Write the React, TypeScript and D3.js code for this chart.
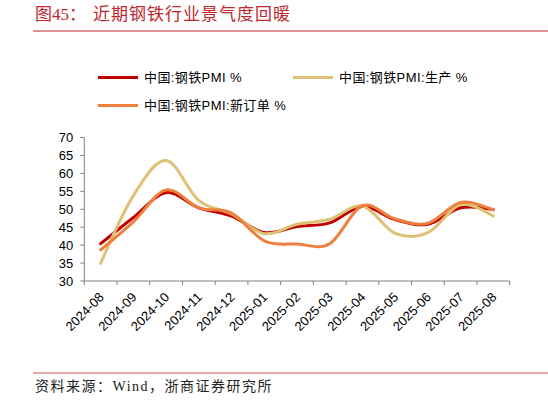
import React, { useEffect, useRef } from 'react';
import * as d3 from 'd3';

const months = ['2024-08', '2024-09', '2024-10', '2024-11', '2024-12', '2025-01', '2025-02', '2025-03', '2025-04', '2025-05', '2025-06', '2025-07', '2025-08'];
const pmi = [40.4, 47.7, 54.6, 50.4, 48.1, 43.5, 45.2, 46.2, 50.8, 47.1, 45.8, 50.4, 49.9];
const production = [34.9, 53.8, 63.6, 52.4, 48.7, 43.2, 45.8, 47.2, 50.9, 43.3, 43.5, 51.3, 48.1];
const newOrders = [38.7, 46.5, 55.4, 50.4, 48.9, 41.2, 40.3, 40.4, 51.0, 47.3, 46.1, 51.9, 49.8];
const yTicks = [30, 35, 40, 45, 50, 55, 60, 65, 70];

const seriesNames = ['中国:钢铁PMI %', '中国:钢铁PMI:生产 %', '中国:钢铁PMI:新订单 %'];
const seriesColors = ['#c00000', '#dfc173', '#ef7f3d'];

const App: React.FC = () => {
  const svgRef = useRef<SVGSVGElement>(null);

  useEffect(() => {
    if (!svgRef.current) return;
    const svg = d3.select(svgRef.current);
    svg.selectAll('*').remove();

    const left = 84.3;
    const right = 509.7;
    const top = 137.5;
    const bottom = 281;
    const sans = '"Liberation Sans", Arial, "Noto Sans CJK SC", sans-serif';
    const serif = '"Liberation Serif", "Noto Sans CJK SC", serif';

    const x = d3.scaleBand<string>().domain(months).range([left, right]);
    const y = d3.scaleLinear().domain([30, 70]).range([bottom, top]);

    // title
    svg.append('text').attr('x', 35).attr('y', 20).attr('font-size', 17)
      .attr('font-family', serif).attr('fill', '#c0282d').text('图45：');
    svg.append('text').attr('x', 93).attr('y', 20).attr('font-size', 17)
      .attr('letter-spacing', 1).attr('font-family', serif).attr('fill', '#c0282d')
      .text('近期钢铁行业景气度回暖');
    svg.append('line').attr('x1', 33).attr('x2', 548).attr('y1', 31).attr('y2', 31)
      .attr('stroke', '#c0282d').attr('stroke-width', 1);

    // legend
    const legendPos = [[98, 77.5], [293, 77.5], [98, 105.5]];
    seriesNames.forEach((name, i) => {
      const [lx, ly] = legendPos[i];
      svg.append('line').attr('x1', lx).attr('x2', lx + 40).attr('y1', ly).attr('y2', ly)
        .attr('stroke', seriesColors[i]).attr('stroke-width', 3);
      svg.append('text').attr('x', lx + 46).attr('y', ly + 4.5).attr('font-size', 13)
        .attr('letter-spacing', 0.4).attr('font-family', sans).attr('fill', '#000').text(name);
    });

    // y axis
    svg.append('line').attr('x1', left).attr('x2', left).attr('y1', top).attr('y2', bottom)
      .attr('stroke', '#808080');
    const yg = svg.append('g');
    yTicks.forEach(t => {
      yg.append('line').attr('x1', left - 4).attr('x2', left).attr('y1', y(t)).attr('y2', y(t))
        .attr('stroke', '#808080');
      yg.append('text').attr('x', left - 11).attr('y', y(t) + 4.5).attr('text-anchor', 'end')
        .attr('font-size', 13).attr('font-family', sans).attr('fill', '#000').text(t);
    });

    // x axis
    svg.append('line').attr('x1', left).attr('x2', right).attr('y1', bottom).attr('y2', bottom)
      .attr('stroke', '#808080');
    const edges = months.map(m => x(m)!).concat([right]);
    edges.forEach(e => {
      svg.append('line').attr('x1', e).attr('x2', e).attr('y1', bottom).attr('y2', bottom + 4)
        .attr('stroke', '#808080');
    });
    months.forEach(m => {
      const cx = x(m)! + x.bandwidth() / 2;
      svg.append('text')
        .attr('transform', `translate(${cx + 4},${bottom + 17}) rotate(-45)`)
        .attr('text-anchor', 'end').attr('font-size', 13).attr('font-family', sans)
        .attr('fill', '#000').text(m);
    });

    // lines
    const line = d3.line<number>()
      .x((_, i) => x(months[i])! + x.bandwidth() / 2)
      .y(d => y(d))
      .curve(d3.curveCatmullRom.alpha(0));
    [pmi, production, newOrders].forEach((s, i) => {
      svg.append('path').attr('d', line(s)).attr('fill', 'none')
        .attr('stroke', seriesColors[i]).attr('stroke-width', 3)
        .attr('stroke-linejoin', 'round').attr('stroke-linecap', 'round');
    });

    // source
    svg.append('line').attr('x1', 33).attr('x2', 548).attr('y1', 373).attr('y2', 373)
      .attr('stroke', '#d9534f').attr('stroke-width', 1);
    svg.append('text').attr('x', 35).attr('y', 391).attr('font-size', 14)
      .attr('letter-spacing', 1.5).attr('font-family', serif).attr('fill', '#222')
      .text('资料来源：Wind，浙商证券研究所');
  }, []);

  return (
    <svg ref={svgRef} width={548} height={402}
      style={{ position: 'absolute', left: 0, top: 0, background: '#fff' }} />
  );
};

export default App;
